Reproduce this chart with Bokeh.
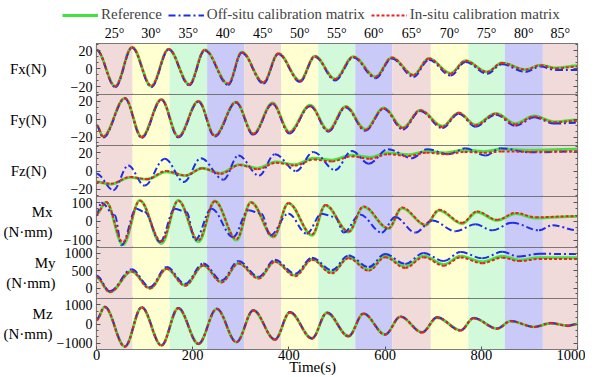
import numpy as np
from bokeh.plotting import figure
from bokeh.layouts import column, row
from bokeh.models import (Range1d, LinearAxis, SingleIntervalTicker, FixedTicker, Label,
                          Legend, LegendItem, CustomJSTickFormatter)
from bokeh.embed import file_html
from bokeh.resources import INLINE

# ---------------- data ----------------
band_edges = [0, 75, 152, 230, 307, 384, 461, 538, 615, 695, 773, 849, 928, 1000]
band_labels = ["25°", "30°", "35°", "40°", "45°", "50°", "55°", "60°", "65°", "70°", "75°", "80°", "85°"]
band_palette = ["#f1dada", "#ffffd2", "#d2f9da", "#cacaf8"]

fx_t = [0, 39, 74, 114, 150, 193, 225, 274, 302, 347, 378, 423, 454, 496, 534, 580, 614, 659, 691, 736, 767, 812, 843, 892, 923, 955, 1000]
fx_ref = [21, -19.5, 24, -19.5, 22, -17.5, 21, -17, 18.5, -15.5, 17, -13.5, 14, -11.5, 13.5, -9, 12.5, -7, 11.5, -5, 9, -3.5, 6.5, -1, 4, 1, 3.5]
fx_off = [21, -20.5, 23.5, -20.5, 21.5, -18.5, 20.5, -18, 18, -16.5, 16.5, -14.5, 13.5, -13, 12.5, -10.5, 11.5, -9, 10, -7.5, 7.5, -5.5, 5, -3.5, 2.5, -1.5, -1.5]
fx_in = [21, -19.5, 24, -19, 22, -17.5, 21, -16.5, 18.5, -15, 17, -13.5, 14, -11.5, 13.5, -9, 12.5, -7, 11.5, -5.5, 9, -3.5, 6.5, -1, 4, 0.5, 2.5]

fy_t = [0, 14, 59, 94, 135, 170, 212, 246, 290, 326, 366, 401, 444, 482, 518, 559, 597, 637, 673, 719, 753, 788, 830, 871, 910, 951, 1000]
fy_ref = [-7, -19.5, 23.5, -20, 22, -19.5, 20, -18.5, 19, -16.5, 18, -14.5, 15.5, -12.5, 14, -11.5, 12.5, -9.5, 10, -8, 7, -6.5, 6.5, -5, 3.5, -3, -1]
fy_off = [-7, -20.5, 23, -21, 21.5, -20.5, 19.5, -19.5, 18.5, -17.5, 17, -16, 14.5, -14, 13, -13, 11.5, -11.5, 9, -10, 6, -8.5, 5, -7.5, 2, -5, -4]
fy_in = [-7, -19.5, 23.5, -20, 22, -19.5, 20, -18.5, 19, -16.5, 17.5, -15, 15, -13, 14, -12, 12, -10, 10, -8.5, 7, -7, 6, -6, 3, -3.5, -2]

fz_t = [0, 30, 70, 105, 145, 185, 220, 258, 297, 335, 373, 412, 452, 490, 530, 568, 606, 648, 686, 726, 765, 805, 842, 900, 1000]
fz_ref = [-12, -14.5, -7, -9, -1, -5, 3, -2.5, 7, 3, 10, 7, 14, 12, 17.5, 15, 20, 18, 21.5, 20, 23, 21.5, 24, 23, 24]
fz_in = [-12, -14, -6.5, -9, 0, -5, 3, -3, 6.5, 2, 9, 6, 12.5, 10.5, 16, 13.5, 18.5, 16.5, 20, 18.5, 21, 20, 21.5, 21, 21.5]
fz_off_t = [0, 35, 66, 100, 142, 182, 217, 264, 295, 338, 371, 415, 451, 496, 531, 566, 606, 656, 687, 732, 767, 809, 840, 900, 1000]
fz_off = [-3, -21, 6, -16, 13.5, -12, 14, -9.5, 17, -5, 18.5, 0, 21, 1, 22, 8, 24, 14, 24, 18.5, 25, 17, 25, 20.5, 21.5]

mx_t = [0, 20, 55, 90, 135, 170, 212, 246, 291, 321, 368, 399, 448, 476, 524, 555, 607, 635, 684, 712, 760, 791, 833, 871, 913, 1000]
mx_ref = [40, 103, -125, 112, -119, 112, -110, 109, -101, 103, -84, 98, -75, 85, -57, 77, -39, 71, -21, 59, -12, 50, 5, 41, 18, 27]
mx_in = [40, 103, -112, 110, -108, 110, -100, 107, -95, 101, -80, 97, -70, 87, -55, 80, -37, 74, -18, 62, -8, 53, 8, 45, 22, 28]
mx_off_t = [0, 10, 38, 52, 83, 100, 132, 163, 187, 205, 239, 284, 316, 343, 361, 399, 437, 468, 496, 514, 548, 593, 621, 663, 698, 746, 788, 823, 864, 920, 948, 1000]
mx_off = [32, 100, 32, -128, 68, 50, -110, 68, 50, -101, 68, -84, 59, 41, -75, 41, -66, 41, 23, -60, 36, -60, 23, -60, 5, -53, -16, -48, -7, -48, -21, -48]

my_t = [0, 28, 73, 111, 146, 184, 222, 260, 295, 337, 371, 413, 448, 489, 524, 566, 600, 642, 680, 722, 757, 802, 844, 878, 920, 1000]
my_ref = [305, -115, 480, -10, 555, 75, 650, 170, 710, 285, 765, 360, 830, 446, 880, 520, 910, 610, 920, 675, 915, 750, 910, 800, 870, 866]
my_off = [350, -95, 535, 25, 600, 120, 700, 215, 770, 320, 810, 410, 870, 510, 930, 600, 975, 690, 1000, 770, 1030, 850, 1035, 900, 980, 971]
my_in = [305, -115, 475, -15, 550, 65, 645, 160, 700, 270, 750, 340, 810, 420, 850, 495, 880, 575, 880, 640, 875, 710, 870, 770, 830, 830]

mz_t = [0, 17, 59, 94, 135, 170, 212, 250, 291, 326, 371, 402, 448, 479, 524, 555, 600, 632, 677, 708, 757, 784, 833, 861, 910, 944, 980, 1000]
mz_ref = [200, 890, -1180, 865, -1120, 822, -1035, 787, -945, 710, -815, 610, -755, 585, -640, 540, -550, 385, -440, 340, -333, 305, -245, 150, -155, 40, -90, 0]
mz_off = [230, 900, -1170, 880, -1110, 830, -1030, 800, -940, 720, -810, 625, -750, 595, -635, 550, -545, 395, -435, 350, -330, 315, -240, 160, -150, 50, -85, 10]
mz_in = [190, 880, -1185, 860, -1125, 815, -1040, 780, -950, 705, -820, 605, -760, 580, -645, 535, -555, 380, -445, 335, -340, 300, -250, 145, -160, 35, -95, -10]

# ---------------- style ----------------
FONT = "'Liberation Serif'"
GREEN = "#3fe23f"
BLUE = "#1e2de6"
RED = "#f41c1c"
AXC = "#555555"

LEG_H = 22        # legend strip height
FRAME_L = 96      # left edge of the panels' frames
TOP_B = 20        # space for the degree labels above the first frame
PANEL_H = 51
NAMES_W = 57

HAS_ORIENT = "axis_label_orientation" in LinearAxis.properties()

panels = [
    dict(name="Fx(N)", names=[("Fx(N)", 69)], stand=21, yr=(-28.7, 28.2), step=20,
         ref=(fx_t, fx_ref), off=(fx_t, fx_off), ins=(fx_t, fx_in)),
    dict(name="Fy(N)", names=[("Fy(N)", 116)], stand=21, yr=(-29.5, 27.5), step=20,
         ref=(fy_t, fy_ref), off=(fy_t, fy_off), ins=(fy_t, fy_in)),
    dict(name="Fz(N)", names=[("Fz(N)", 169)], stand=21, yr=(-28, 28), step=20,
         ref=(fz_t, fz_ref), off=(fz_off_t, fz_off), ins=(fz_t, fz_in)),
    dict(name="Mx\n(N·mm)", names=[("Mx", 210.5), ("(N·mm)", 227)], stand=8, yr=(-140, 133), step=100,
         ref=(mx_t, mx_ref), off=(mx_off_t, mx_off), ins=(mx_t, mx_in)),
    dict(name="My\n(N·mm)", names=[("My", 267), ("(N·mm)", 282)], stand=6, yr=(-300, 1160), step=500,
         ref=(my_t, my_ref), off=(my_t, my_off), ins=(my_t, my_in)),
    dict(name="Mz\n(N·mm)", names=[("Mz", 306), ("(N·mm)", 324)], stand=1, yr=(-1330, 1330), step=1000,
         ref=(mz_t, mz_ref), off=(mz_t, mz_off), ins=(mz_t, mz_in)),
]


def smooth(p, t, v, color, width, dash):
    t = np.asarray(t, dtype=float)
    v = np.asarray(v, dtype=float)
    dt = t[1:] - t[:-1]
    k = 0.36
    return p.bezier(x0=t[:-1], y0=v[:-1], x1=t[1:], y1=v[1:],
                    cx0=t[:-1] + k * dt, cy0=v[:-1], cx1=t[1:] - k * dt, cy1=v[1:],
                    line_color=color, line_width=width, line_dash=dash)


def blank(w, h):
    f = figure(width=w, height=h, x_range=Range1d(0, w), y_range=Range1d(0, h),
               output_backend="svg", toolbar_location=None,
               x_axis_location=None, y_axis_location=None,
               min_border_left=0, min_border_right=0, min_border_top=0, min_border_bottom=0)
    f.grid.visible = False
    f.outline_line_color = None
    f.background_fill_color = "white"
    f.border_fill_color = "white"
    return f


left_border = FRAME_L if HAS_ORIENT else FRAME_L - NAMES_W
x_range = Range1d(0, 1000)
band_colors = [band_palette[i % 4] for i in range(len(band_edges) - 1)]
figs = []
n = len(panels)
for i, pn in enumerate(panels):
    first = i == 0
    last = i == n - 1
    y0, y1 = pn["yr"]
    p = figure(frame_width=481, frame_height=PANEL_H, x_range=x_range, y_range=Range1d(y0, y1),
               output_backend="svg", toolbar_location=None,
               x_axis_location=None, y_axis_location=None,
               min_border_left=left_border, min_border_right=8,
               min_border_top=TOP_B if first else 0, min_border_bottom=0)
    p.grid.visible = False
    p.outline_line_color = AXC
    p.outline_line_width = 1.2
    p.background_fill_color = "white"
    p.border_fill_color = "white"

    p.quad(left=band_edges[:-1], right=band_edges[1:], bottom=y0, top=y1,
           fill_color=band_colors, line_color=None)

    smooth(p, *pn["ref"], GREEN, 2.8, "solid")
    smooth(p, *pn["off"], BLUE, 2.0, "7 3 2 3")
    smooth(p, *pn["ins"], RED, 2.0, "3 2")

    yl = LinearAxis(ticker=SingleIntervalTicker(interval=pn["step"], num_minor_ticks=3),
                    axis_line_color=None, major_tick_in=4, major_tick_out=0,
                    minor_tick_in=2, minor_tick_out=0,
                    major_tick_line_color=AXC, minor_tick_line_color=AXC,
                    major_label_standoff=4,
                    major_label_text_font=FONT, major_label_text_font_size="14px",
                    major_label_text_color="black")
    if HAS_ORIENT:
        yl.axis_label = pn["name"]
        yl.axis_label_orientation = "horizontal"
        yl.axis_label_standoff = pn["stand"]
        yl.axis_label_text_font = FONT
        yl.axis_label_text_font_size = "15px"
        yl.axis_label_text_font_style = "normal"
        yl.axis_label_text_color = "black"
        yl.axis_label_text_align = "center"
    p.add_layout(yl, "left")
    yr_ax = LinearAxis(ticker=SingleIntervalTicker(interval=pn["step"], num_minor_ticks=3),
                       axis_line_color=None, major_tick_in=4, major_tick_out=0,
                       minor_tick_in=2, minor_tick_out=0,
                       major_tick_line_color=AXC, minor_tick_line_color=AXC,
                       major_label_standoff=0,
                       formatter=CustomJSTickFormatter(code="return ''"))
    p.add_layout(yr_ax, "right")

    if first:
        centers = [(band_edges[j] + band_edges[j + 1]) / 2 for j in range(len(band_edges) - 1)]
        deg = LinearAxis(ticker=FixedTicker(ticks=centers),
                         major_label_overrides={c: lab for c, lab in zip(centers, band_labels)},
                         axis_line_color=None, major_tick_line_color=None, minor_tick_line_color=None,
                         major_tick_in=0, major_tick_out=0, minor_tick_in=0, minor_tick_out=0,
                         major_label_standoff=3,
                         major_label_text_font=FONT, major_label_text_font_size="14px",
                         major_label_text_color="black")
        p.add_layout(deg, "above")

    if last:
        # trailing no-break spaces move the centred axis title left, as in the original
        xa = LinearAxis(ticker=SingleIntervalTicker(interval=200, num_minor_ticks=0),
                        axis_line_color=None, major_tick_in=3, major_tick_out=0,
                        minor_tick_in=0, minor_tick_out=0,
                        major_tick_line_color=AXC, major_label_standoff=0,
                        major_label_text_font=FONT, major_label_text_font_size="14.5px",
                        major_label_text_color="black",
                        axis_label="Time(s)" + "\u00a0" * 13, axis_label_standoff=-4,
                        axis_label_text_font=FONT, axis_label_text_font_size="15px",
                        axis_label_text_font_style="normal", axis_label_text_color="black")
        p.add_layout(xa, "below")
    figs.append(p)

# legend strip on top
leg_fig = blank(585, LEG_H)
nan = [float("nan")]
lg = leg_fig.line(x=nan, y=nan, line_color=GREEN, line_width=2.8)
lb = leg_fig.line(x=nan, y=nan, line_color=BLUE, line_width=2.0, line_dash="7 3 2 3")
lr = leg_fig.line(x=nan, y=nan, line_color=RED, line_width=2.0, line_dash="3 2")
legend = Legend(items=[LegendItem(label="Reference", renderers=[lg]),
                       LegendItem(label="Off-situ calibration matrix", renderers=[lb]),
                       LegendItem(label="In-situ calibration matrix", renderers=[lr])],
                location=(62, -1), orientation="horizontal",
                border_line_color=None, background_fill_alpha=0,
                padding=0, margin=0, spacing=6, label_standoff=3,
                glyph_width=36, glyph_height=14, label_height=14,
                label_text_font=FONT, label_text_font_size="15px")
leg_fig.add_layout(legend)

stack = column(*figs, spacing=0)
if HAS_ORIENT:
    body = stack
else:
    stack_h = TOP_B + PANEL_H * n
    names_fig = blank(NAMES_W, stack_h)
    for pn in panels:
        for txt, ys in pn["names"]:
            names_fig.add_layout(Label(x=33.5, y=LEG_H + stack_h - ys, text=txt, text_align="center",
                                       text_baseline="middle", text_font=FONT,
                                       text_font_size="14.5px", text_color="black"))
    body = row(names_fig, stack, spacing=0)

layout = column(leg_fig, body, spacing=0)
open("out.html", "w").write(file_html(layout, INLINE))
